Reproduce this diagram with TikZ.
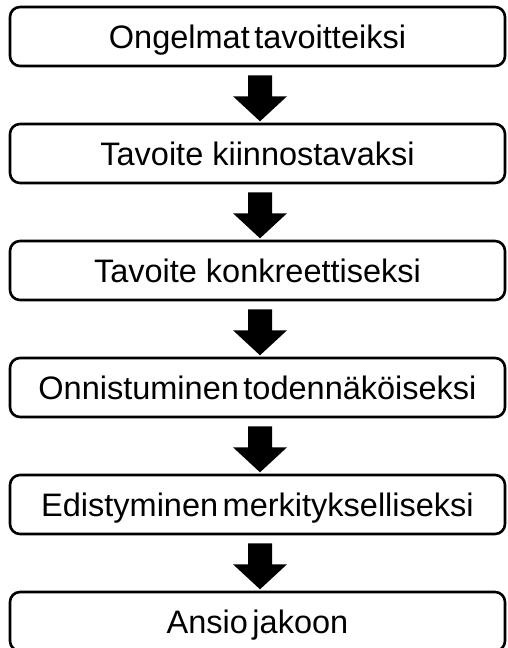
\documentclass[tikz,border=0pt]{standalone}
\usepackage{fontspec}
\setmainfont{Liberation Sans}
\usetikzlibrary{calc}

\tikzset{
  stage/.style={draw=black, line width=2.6pt, rounded corners=10pt,
    minimum width=495pt, minimum height=59pt, inner sep=0pt,
    font=\fontsize{32.5pt}{39pt}\selectfont,
    text height=23.3pt, text depth=0pt},
  flowarrow/.style={fill=black, draw=none}
}

% block arrow hanging below a stage box
\newcommand{\stagearrow}[1]{%
  \fill[flowarrow]
    ($(#1.south)+(-9.5,8)$) -- ($(#1.south)+(14.5,8)$) --
    ($(#1.south)+(14.5,29)$) -- ($(#1.south)+(29.5,29)$) --
    ($(#1.south)+(2.5,54)$) -- ($(#1.south)+(-24.5,29)$) --
    ($(#1.south)+(-9.5,29)$) -- cycle;}

\begin{document}
\begin{tikzpicture}[x=1pt, y=-1pt]
  \useasboundingbox (0,0) rectangle (507,648);

  \node[stage] (b1) at (257.5, 36.5) {Ongelmat\hspace{0.14em}tavoitteiksi};
  \node[stage] (b2) at (257.5, 153.5) {Tavoite kiinnostavaksi};
  \node[stage] (b3) at (257.5, 270.5) {Tavoite konkreettiseksi};
  \node[stage] (b4) at (257.5, 387.5) {Onnistuminen\hspace{0.14em}todennäköiseksi};
  \node[stage] (b5) at (257.5, 504.5) {Edistyminen\hspace{0.14em}merkitykselliseksi};
  \node[stage] (b6) at (257.5, 621.5) {Ansio\hspace{0.14em}jakoon};

  \stagearrow{b1}
  \stagearrow{b2}
  \stagearrow{b3}
  \stagearrow{b4}
  \stagearrow{b5}
\end{tikzpicture}
\end{document}
